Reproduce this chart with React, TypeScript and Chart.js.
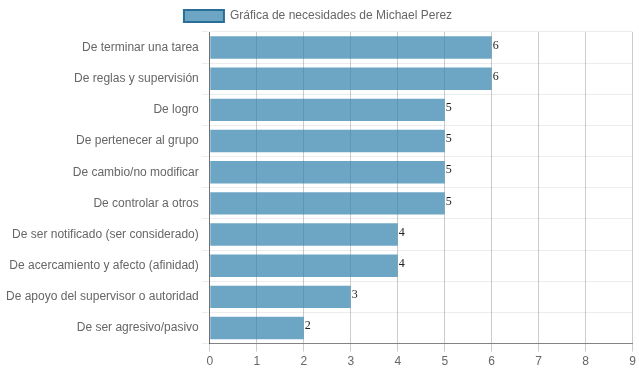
import React, { useEffect, useRef } from "react";
import { Chart, registerables } from "chart.js";

Chart.register(...registerables);

const categories = [
  "De terminar una tarea",
  "De reglas y supervisión",
  "De logro",
  "De pertenecer al grupo",
  "De cambio/no modificar",
  "De controlar a otros",
  "De ser notificado (ser considerado)",
  "De acercamiento y afecto (afinidad)",
  "De apoyo del supervisor o autoridad",
  "De ser agresivo/pasivo",
];
const values = [6, 6, 5, 5, 5, 5, 4, 4, 3, 2];
const seriesLabel = "Gráfica de necesidades de Michael Perez";
const xMin = 0;
const xMax = 9;

const valueLabels = {
  id: "valueLabels",
  afterDatasetsDraw(chart: any) {
    const ctx = chart.ctx;
    const meta = chart.getDatasetMeta(0);
    ctx.save();
    ctx.font = "12px 'Liberation Serif', serif";
    ctx.fillStyle = "#222";
    ctx.textAlign = "left";
    ctx.textBaseline = "middle";
    meta.data.forEach((bar: any, i: number) => {
      ctx.fillText(String(values[i]), bar.x + 1, bar.y - 2);
    });
    ctx.restore();
  },
};

export default function App() {
  const ref = useRef<HTMLCanvasElement>(null);
  useEffect(() => {
    Chart.defaults.font.family = "'Liberation Sans', Arial, sans-serif";
    Chart.defaults.font.size = 12;
    Chart.defaults.color = "#666";
    const chart = new Chart(ref.current!, {
      type: "bar",
      data: {
        labels: categories,
        datasets: [
          {
            label: seriesLabel,
            data: values,
            backgroundColor: "rgba(45,128,171,0.7)",
            borderColor: "rgba(40,110,150,1)",
            borderWidth: 0,
            barPercentage: 0.9,
            categoryPercentage: 0.8,
          },
        ],
      },
      options: {
        indexAxis: "y",
        animation: false,
        responsive: false,
        maintainAspectRatio: false,
        layout: { padding: { left: 3, right: 6, top: 0, bottom: 0 } },
        plugins: {
          legend: {
            labels: {
              boxWidth: 40,
              boxHeight: 12,
              generateLabels: () => [
                {
                  text: seriesLabel,
                  fillStyle: "rgba(45,128,171,0.7)",
                  strokeStyle: "rgba(40,110,150,1)",
                  lineWidth: 2,
                  hidden: false,
                  datasetIndex: 0,
                  fontColor: "#666",
                },
              ],
            },
          },
          tooltip: { enabled: false },
        },
        scales: {
          x: {
            min: xMin,
            max: xMax,
            ticks: { stepSize: 1, color: "#666" },
            grid: { color: "rgba(0,0,0,0.2)", tickLength: 8 },
            border: { color: "rgba(0,0,0,0.45)" },
          },
          y: {
            ticks: { color: "#666" },
            grid: { color: "rgba(0,0,0,0.07)", tickLength: 8, offset: true },
            border: { color: "rgba(0,0,0,0.45)" },
          },
        },
      },
      plugins: [valueLabels],
    });
    return () => chart.destroy();
  }, []);
  return (
    <div style={{ position: "fixed", left: 0, top: 0, width: 639, height: 372 }}>
      <canvas ref={ref} width={639} height={372} style={{ width: 639, height: 372 }} />
    </div>
  );
}
